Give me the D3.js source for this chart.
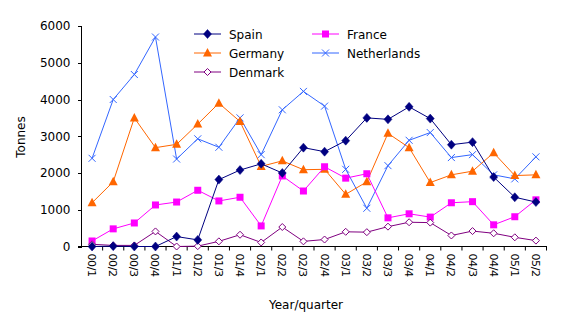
<!DOCTYPE html>
<html><head><meta charset="utf-8">
<script src="https://cdn.jsdelivr.net/npm/d3@7"></script>
<style>body{margin:0;background:#fff}svg{display:block}text{font-family:"DejaVu Sans",Verdana,sans-serif}</style>
</head><body><svg id="c" width="568" height="321"></svg>
<script>
const categories = ["00/1","00/2","00/3","00/4","01/1","01/2","01/3","01/4","02/1","02/2","02/3","02/4","03/1","03/2","03/3","03/4","04/1","04/2","04/3","04/4","05/1","05/2"];
const spain =       [0,10,0,0,270,180,1820,2080,2250,2000,2690,2580,2880,3500,3460,3800,3480,2770,2840,1890,1340,1210];
const germany =     [1190,1760,3500,2690,2780,3330,3900,3400,2180,2330,2090,2100,1420,1760,3080,2690,1740,1950,2050,2550,1930,1950];
const denmark =     [60,30,30,410,0,10,140,320,110,530,140,190,400,390,540,660,650,300,420,360,250,160];
const france =      [150,480,640,1130,1210,1530,1240,1340,560,1920,1510,2170,1860,1980,780,890,800,1190,1220,590,810,1270];
const netherlands = [2400,4000,4680,5700,2380,2930,2700,3500,2500,3720,4220,3820,2100,1040,2200,2890,3100,2420,2500,1950,1840,2440];
const yTicks = [0,1000,2000,3000,4000,5000,6000];

const series = [
  {name:"Netherlands", values:netherlands, color:"#3366FF", marker:"x"},
  {name:"Germany", values:germany, color:"#FF6600", marker:"triangle"},
  {name:"France", values:france, color:"#FF00FF", marker:"square"},
  {name:"Denmark", values:denmark, color:"#800080", marker:"hdiamond"},
  {name:"Spain", values:spain, color:"#000080", marker:"diamond"}
];

const svg = d3.select("#c");
const L=81.5, R=546.5, T=26, B=246.5;
const x = d3.scaleBand().domain(categories).range([L,R]);
const y = d3.scaleLinear().domain([0,6000]).range([B,T]);

// axes
const ya = svg.append("g").attr("transform",`translate(${L},0)`)
  .call(d3.axisLeft(y).tickValues(yTicks).tickSize(4).tickPadding(7).tickFormat(d3.format("d")));
ya.select(".domain").attr("d",`M0,${B}V${T}`);
const xa = svg.append("g").attr("transform",`translate(0,${B})`)
  .call(d3.axisBottom(x).tickSize(0).tickFormat(""));
xa.select(".domain").attr("d",`M${L-4},0H${R}`);
// tick marks at band boundaries
categories.forEach((c,i)=>{
  const bx = x(c)+x.bandwidth();
  svg.append("line").attr("x1",bx).attr("x2",bx).attr("y1",B).attr("y2",B+4).attr("stroke","#000");
});
svg.selectAll(".tick text").attr("font-size",12).attr("fill","#000");
svg.selectAll(".domain, .tick line").attr("stroke","#000").attr("shape-rendering","crispEdges");

// x labels rotated
svg.append("g").selectAll("text").data(categories).join("text")
  .attr("transform",d=>`translate(${x(d)+x.bandwidth()/2-4},${B+7}) rotate(90)`)
  .attr("font-size",11).attr("letter-spacing","-0.4").attr("text-anchor","start").text(d=>d);

svg.append("text").attr("transform",`translate(25,137) rotate(-90)`).attr("text-anchor","middle")
  .attr("font-size",12).text("Tonnes");
svg.append("text").attr("x",306).attr("y",309).attr("text-anchor","middle").attr("font-size",12).text("Year/quarter");

function marker(g, type, color, cx, cy){
  if(type==="diamond"){
    g.append("path").attr("d",`M${cx},${cy-4.5}L${cx+4},${cy}L${cx},${cy+4.5}L${cx-4},${cy}Z`).attr("fill",color).attr("stroke",color).attr("stroke-width",0.5);
  } else if(type==="hdiamond"){
    g.append("path").attr("d",`M${cx},${cy-3.5}L${cx+3.5},${cy}L${cx},${cy+3.5}L${cx-3.5},${cy}Z`).attr("fill","#fff").attr("stroke",color).attr("stroke-width",1);
  } else if(type==="square"){
    g.append("rect").attr("x",cx-3.5).attr("y",cy-3.5).attr("width",7).attr("height",7).attr("fill",color);
  } else if(type==="triangle"){
    g.append("path").attr("d",`M${cx},${cy-5}L${cx+4.5},${cy+3.5}L${cx-4.5},${cy+3.5}Z`).attr("fill",color);
  } else if(type==="x"){
    g.append("path").attr("d",`M${cx-3.5},${cy-3.5}L${cx+3.5},${cy+3.5}M${cx+3.5},${cy-3.5}L${cx-3.5},${cy+3.5}`).attr("stroke",color).attr("stroke-width",1);
  }
}

const line = d3.line().x((d,i)=>x(categories[i])+x.bandwidth()/2).y(d=>y(d));
series.forEach(s=>{
  const g = svg.append("g");
  g.append("path").attr("d",line(s.values)).attr("fill","none").attr("stroke",s.color).attr("stroke-width",1);
  s.values.forEach((v,i)=>marker(g,s.marker,s.color,x(categories[i])+x.bandwidth()/2,y(v)));
});

// legend
const legend = [
  {s:"Spain",lx:194,ly:34},{s:"Germany",lx:194,ly:53},{s:"Denmark",lx:194,ly:72},
  {s:"France",lx:312,ly:34},{s:"Netherlands",lx:312,ly:53}
];
legend.forEach(l=>{
  const s = series.find(d=>d.name===l.s);
  const g = svg.append("g");
  g.append("line").attr("x1",l.lx).attr("x2",l.lx+27).attr("y1",l.ly).attr("y2",l.ly).attr("stroke",s.color);
  marker(g,s.marker,s.color,l.lx+13.5,l.ly);
  g.append("text").attr("x",l.lx+35).attr("y",l.ly+4.5).attr("font-size",12).text(s.name);
});
</script></body></html>
